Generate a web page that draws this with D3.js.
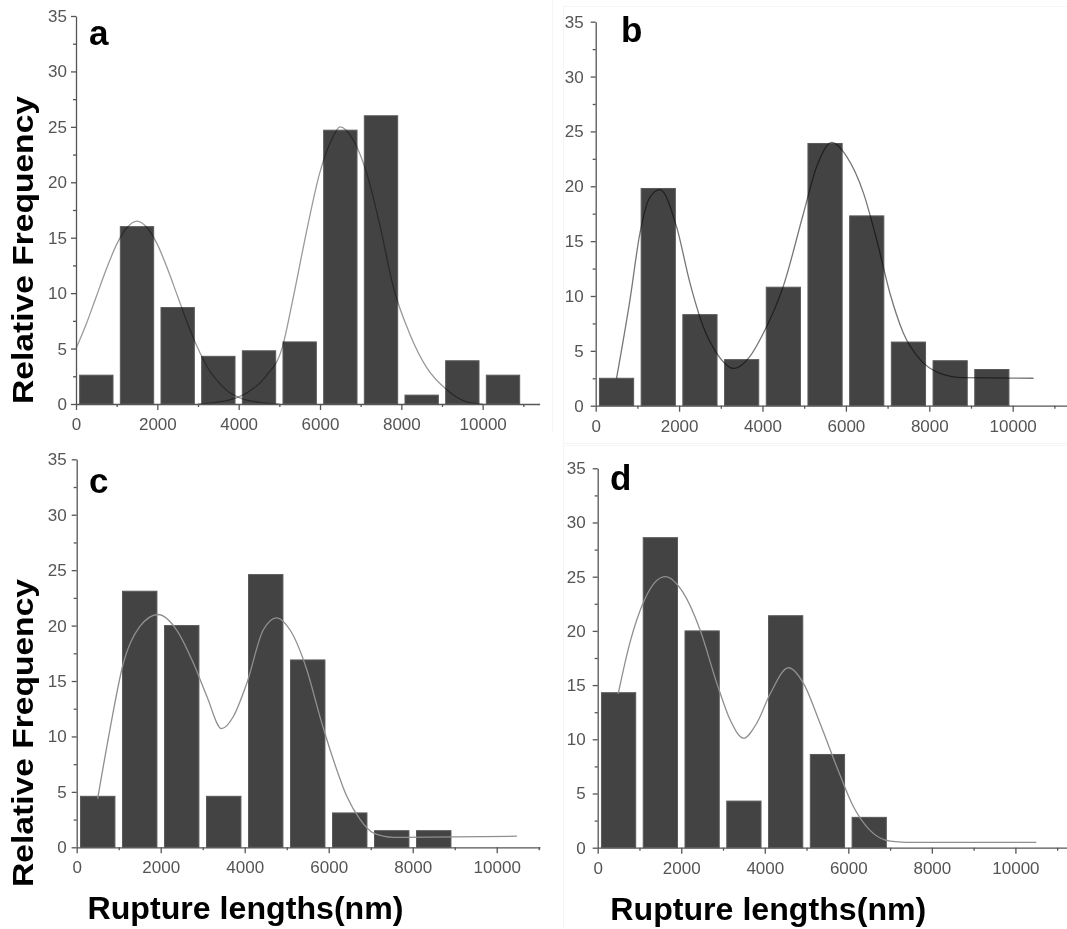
<!DOCTYPE html>
<html>
<head>
<meta charset="utf-8">
<script src="https://cdn.jsdelivr.net/npm/d3@7"></script>
<style>
  body { margin: 0; background: #fff; }
  svg { display: block; }
  .tick text { font-family: "Liberation Sans", Arial, sans-serif; font-size: 17px; fill: #555; }
  .tick line, .domain { stroke: #555; stroke-width: 1.3; }
</style>
</head>
<body>
<div id="vis"></div>
<script>
const W = 1067;
const H = 929;

// bin starts (nm), every bin is 1000 wide
const binStarts = [0, 1000, 2000, 3000, 4000, 5000, 6000, 7000, 8000, 9000, 10000];

// bar heights
const freqA = [2.6, 16.0, 8.7, 4.3, 4.8, 5.6, 24.7, 26.0, 0.8, 3.9, 2.6];
const freqB = [2.5, 19.8, 8.3, 4.2, 10.8, 23.9, 17.3, 5.8, 4.1, 3.3];
const freqC = [4.6, 23.1, 20.0, 4.6, 24.6, 16.9, 3.1, 1.5, 1.5];
const freqD = [14.3, 28.6, 20.0, 4.3, 21.4, 8.6, 2.8];

// fit curves, points [x, y]
const fitA1 = [[0, 5.0], [250, 7.2], [500, 9.7], [750, 12.2], [1000, 14.4], [1250, 15.9], [1500, 16.5],
  [1750, 15.9], [2000, 14.4], [2250, 12.2], [2500, 9.7], [2750, 7.2], [3000, 5.0], [3250, 3.2],
  [3500, 2.0], [3750, 1.1], [4000, 0.6], [4500, 0.15], [5000, 0]];
const fitA2 = [[3000, 0], [3700, 0.3], [4200, 1.0], [4670, 2.5], [5080, 5.2], [5330, 9.4], [5660, 15.4],
  [5990, 20.8], [6320, 24.1], [6490, 25.0], [6820, 23.8], [7150, 20.8], [7480, 16.0], [7800, 10.6],
  [8210, 6.3], [8620, 3.3], [9110, 1.3], [9600, 0.2], [10000, 0]];
const fitB = [[500, 2.5], [820, 9.6], [1060, 15.7], [1300, 19.0], [1540, 19.7], [1940, 16.3], [2260, 11.2],
  [2580, 7.2], [2900, 4.8], [3320, 3.4], [3700, 4.5], [4020, 6.6], [4500, 10.9], [4980, 17.5],
  [5300, 21.8], [5660, 24.0], [6020, 22.7], [6420, 19.4], [6740, 15.1], [7060, 10.2], [7380, 6.6],
  [7780, 4.2], [8260, 2.95], [8820, 2.55], [10500, 2.5]];
const fitC = [[500, 4.4], [790, 10.6], [1110, 16.6], [1500, 19.9], [1940, 21.0], [2380, 19.6], [2780, 16.6],
  [3100, 13.6], [3450, 10.7], [3730, 11.8], [4050, 14.8], [4440, 19.6], [4760, 20.7], [5080, 19.6],
  [5480, 16.0], [5790, 11.8], [6110, 7.9], [6430, 4.6], [6750, 2.5], [7060, 1.3], [7540, 0.9], [10480, 1.0]];
const fitD = [[490, 14.2], [770, 18.9], [1090, 22.6], [1610, 25.0], [2050, 23.5], [2450, 20.1], [2850, 15.2],
  [3170, 11.8], [3490, 10.1], [3810, 11.5], [4130, 14.2], [4570, 16.6], [4920, 15.2], [5320, 11.5],
  [5720, 7.5], [6120, 3.8], [6520, 1.6], [7000, 0.6], [7400, 0.5], [10500, 0.5]];

const yTicks = [0, 5, 10, 15, 20, 25, 30, 35];
const yMinor = [2.5, 7.5, 12.5, 17.5, 22.5, 27.5, 32.5];
const xTicks = [0, 2000, 4000, 6000, 8000, 10000];
const xMinor = [1000, 3000, 5000, 7000, 9000, 11000];

const yTitle = "Relative Frequency";
const xTitle = "Rupture lengths(nm)";

const panels = [
  { id: "a", freq: freqA, fits: [fitA1, fitA2], xMax: 11400, xr: [76, 539.6], yr: [404, 16],
    letter: [89, 45], curve: "#9a9a9a", blend: "multiply", pad: 4 },
  { id: "b", freq: freqB, fits: [fitB], xMax: 11300, xr: [595.7, 1066.9], yr: [405.7, 21.7],
    letter: [621, 42], curve: "#777", blend: "multiply", pad: 7 },
  { id: "c", freq: freqC, fits: [fitC], xMax: 11030, xr: [76.7, 540], yr: [847.3, 459.3],
    letter: [89, 493], curve: "#8f8f8f", blend: "normal", pad: 5 },
  { id: "d", freq: freqD, fits: [fitD], xMax: 11240, xr: [597.7, 1067.2], yr: [847.7, 468.3],
    letter: [610, 490], curve: "#8f8f8f", blend: "normal", pad: 7 },
];

const svg = d3.select("#vis").append("svg").attr("width", W).attr("height", H);

// faint frames left from the original figure crops
svg.append("line").attr("x1", 552.5).attr("x2", 552.5).attr("y1", 0).attr("y2", 433)
  .attr("stroke", "#f5f5f5");
svg.append("rect").attr("x", 563.5).attr("y", 6.5).attr("width", 510).attr("height", 437)
  .attr("fill", "none").attr("stroke", "#f5f5f5");
svg.append("rect").attr("x", 563.5).attr("y", 445.5).attr("width", 510).attr("height", 490)
  .attr("fill", "none").attr("stroke", "#f5f5f5");

panels.forEach((p) => {
  const x = d3.scaleLinear().domain([0, p.xMax]).range(p.xr);
  const y = d3.scaleLinear().domain([0, 35]).range(p.yr);
  const g = svg.append("g");

  // bars
  g.selectAll(".bar")
    .data(p.freq)
    .enter()
    .append("rect")
    .attr("class", "bar")
    .attr("x", (d, i) => x(binStarts[i] + 90))
    .attr("width", (d, i) => x(binStarts[i] + 910) - x(binStarts[i] + 90))
    .attr("y", (d) => y(d))
    .attr("height", (d) => y(0) - y(d))
    .attr("fill", "#434343")
    .attr("stroke", "#5a5a5a")
    .attr("stroke-width", 1);

  // fitted curves
  const line = d3.line()
    .x((d) => x(d[0]))
    .y((d) => y(d[1]))
    .curve(d3.curveMonotoneX);

  p.fits.forEach((f) => {
    g.append("path")
      .attr("d", line(f))
      .attr("fill", "none")
      .attr("stroke", p.curve)
      .attr("stroke-width", 1.3)
      .style("mix-blend-mode", p.blend);
  });

  // minor ticks
  g.append("g")
    .attr("transform", `translate(0,${y(0)})`)
    .call(d3.axisBottom(x).tickValues(xMinor.filter((v) => v <= p.xMax)).tickSize(3).tickFormat(""))
    .call((s) => s.select(".domain").remove());
  g.append("g")
    .attr("transform", `translate(${x(0)},0)`)
    .call(d3.axisLeft(y).tickValues(yMinor).tickSize(3).tickFormat(""))
    .call((s) => s.select(".domain").remove());

  // major axes
  g.append("g")
    .attr("transform", `translate(0,${y(0)})`)
    .call(d3.axisBottom(x).tickValues(xTicks).tickSize(6).tickSizeOuter(0).tickPadding(8)
      .tickFormat(d3.format("d")));
  g.append("g")
    .attr("transform", `translate(${x(0)},0)`)
    .call(d3.axisLeft(y).tickValues(yTicks).tickSize(5).tickSizeOuter(0).tickPadding(p.pad)
      .tickFormat(d3.format("d")));

  // panel letter
  g.append("text")
    .attr("x", p.letter[0])
    .attr("y", p.letter[1])
    .style("font-family", "'Liberation Sans', Arial, sans-serif")
    .style("font-size", "35px")
    .style("font-weight", "bold")
    .text(p.id);
});

// axis titles
const titleFont = "'Liberation Sans', Arial, sans-serif";
[[25, 250], [25, 733]].forEach(([cx, cy]) => {
  svg.append("text")
    .attr("transform", `translate(${cx + 8},${cy}) rotate(-90)`)
    .attr("text-anchor", "middle")
    .attr("textLength", 308)
    .attr("lengthAdjust", "spacingAndGlyphs")
    .style("font-family", titleFont)
    .style("font-size", "29px")
    .style("font-weight", "bold")
    .text(yTitle);
});
[[245.5, 919], [768.3, 920]].forEach(([cx, cy]) => {
  svg.append("text")
    .attr("x", cx)
    .attr("y", cy)
    .attr("text-anchor", "middle")
    .attr("textLength", 316)
    .attr("lengthAdjust", "spacingAndGlyphs")
    .style("font-family", titleFont)
    .style("font-size", "32px")
    .style("font-weight", "bold")
    .text(xTitle);
});
</script>
</body>
</html>
